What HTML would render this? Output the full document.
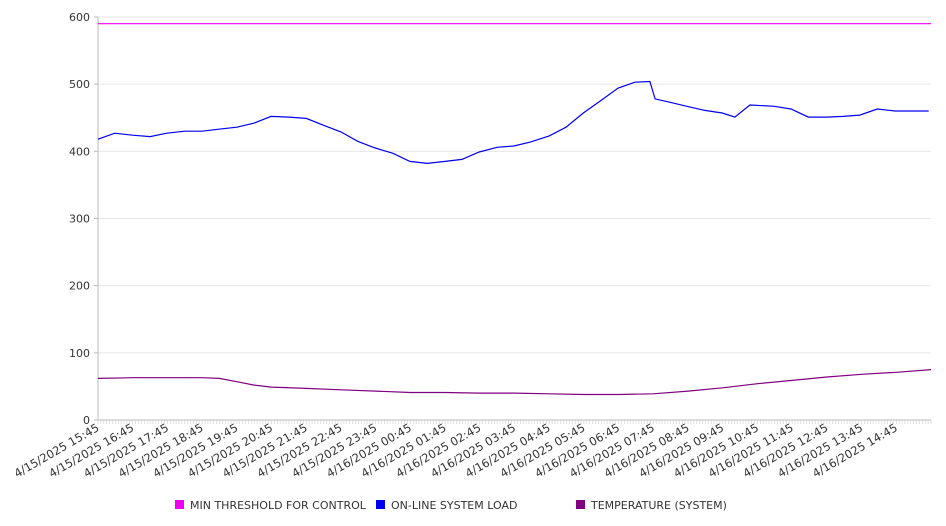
<!DOCTYPE html>
<html><head><meta charset="utf-8"><style>
html,body{margin:0;padding:0;background:#fff;}
svg{display:block;font-family:"DejaVu Sans","Liberation Sans",sans-serif;}
</style></head><body>
<svg id="chart" width="946" height="526" viewBox="0 0 946 526" xmlns="http://www.w3.org/2000/svg">
<g id="grid"></g>
<g id="axes"></g>
<g id="series"></g>
<g id="legend"></g>
</svg>
<script>
const yTicks = [0,100,200,300,400,500,600];
const xTickLabels = ["4/15/2025 15:45","4/15/2025 16:45","4/15/2025 17:45","4/15/2025 18:45","4/15/2025 19:45","4/15/2025 20:45","4/15/2025 21:45","4/15/2025 22:45","4/15/2025 23:45","4/16/2025 00:45","4/16/2025 01:45","4/16/2025 02:45","4/16/2025 03:45","4/16/2025 04:45","4/16/2025 05:45","4/16/2025 06:45","4/16/2025 07:45","4/16/2025 08:45","4/16/2025 09:45","4/16/2025 10:45","4/16/2025 11:45","4/16/2025 12:45","4/16/2025 13:45","4/16/2025 14:45"];
// times in minutes since 4/15 15:45
const loadTimes = [0,29,60,90,119,150,180,209,240,270,299,330,360,389,420,449,479,510,539,569,600,629,659,690,719,748,780,809,839,870,899,928,954,963,989,1018,1049,1079,1101,1127,1169,1198,1228,1259,1288,1317,1347,1378,1407,1436];
const loadValues = [418,427,424,422,427,430,430,433,436,442,452,451,449,439,429,415,405,397,385,382,385,388,399,406,408,414,423,436,457,476,494,503,504,478,473,467,461,457,451,469,467,463,451,451,452,454,463,460,460,460];
const tempTimes = [0,60,120,180,210,240,270,300,360,420,480,540,600,660,720,780,840,900,960,1020,1080,1140,1200,1260,1320,1380,1440];
const tempValues = [62,63,63,63,62,57,52,49,47,45,43,41,41,40,40,39,38,38,39,43,48,54,59,64,68,71,75];
const thresholdValue = 590;
const legendLabels = ["MIN THRESHOLD FOR CONTROL","ON-LINE SYSTEM LOAD","TEMPERATURE (SYSTEM)"];
const legendColors = ["#ee00ee","#0000ee","#800080"];

const X0=98, X1=931, Y0=420, Y1=17, TMAX=1440;
function xs(t){return X0+(t/TMAX)*(X1-X0);}
function ys(v){return Y0-(v/600)*(Y0-Y1);}
const NS="http://www.w3.org/2000/svg";
function mk(tag,parent){const e=document.createElementNS(NS,tag);parent.appendChild(e);return e;}
const grid=document.getElementById('grid'), axes=document.getElementById('axes'), series=document.getElementById('series'), legend=document.getElementById('legend');

yTicks.forEach(v=>{
  const l=mk('line',grid);
  
  
  l.setAttribute('x1',X0);l.setAttribute('x2',X1);l.setAttribute('y1',ys(v));l.setAttribute('y2',ys(v));
  l.setAttribute('stroke',v===0?'#bbb':'#e6e6e6');l.setAttribute('stroke-width','1');
  const tk=mk('line',axes);
  
  
  tk.setAttribute('x1',X0-4);tk.setAttribute('x2',X0);tk.setAttribute('y1',ys(v));tk.setAttribute('y2',ys(v));tk.setAttribute('stroke','#bbb');
  const t=mk('text',axes);
  
  
  t.setAttribute('x',X0-8);t.setAttribute('y',ys(v)+4);t.setAttribute('text-anchor','end');
  t.setAttribute('font-size','11');t.setAttribute('fill','#333');t.textContent=v;
});
const ax=mk('line',axes);


ax.setAttribute('x1',X0);ax.setAttribute('x2',X0);ax.setAttribute('y1',Y1);ax.setAttribute('y2',Y0);ax.setAttribute('stroke','#bbb');
for(let t=0;t<=TMAX;t+=5){
  const tk=mk('line',axes);
  
  
  tk.setAttribute('x1',xs(t));tk.setAttribute('x2',xs(t));tk.setAttribute('y1',Y0);tk.setAttribute('y2',Y0+4);tk.setAttribute('stroke','#ccc');tk.setAttribute('stroke-width','0.6');
}
xTickLabels.forEach((s,i)=>{
  const x=xs(i*60);
  const t=mk('text',axes);
  
  
  t.setAttribute('transform','translate('+(x+2)+','+(Y0+10)+') rotate(-30)');
  t.setAttribute('text-anchor','end');t.setAttribute('font-size','11.5');t.setAttribute('fill','#333');t.textContent=s;
});

function path(times,vals,color,name){
  const p=mk('path',series);
  
  
  p.setAttribute('d',times.map((t,i)=>(i?'L':'M')+xs(t).toFixed(1)+','+ys(vals[i]).toFixed(1)).join(' '));
  p.setAttribute('fill','none');p.setAttribute('stroke',color);p.setAttribute('stroke-width','1.2');
}
path([0,TMAX],[thresholdValue,thresholdValue],legendColors[0],'threshold-line');
path(loadTimes,loadValues,legendColors[1],'system-load-line');
path(tempTimes,tempValues,legendColors[2],'temperature-line');

const lx=[175,376,576];
legendLabels.forEach((s,i)=>{
  const r=mk('rect',legend);
  
  
  r.setAttribute('x',lx[i]);r.setAttribute('y',500);r.setAttribute('width',9);r.setAttribute('height',9);r.setAttribute('fill',legendColors[i]);
  const t=mk('text',legend);
  
  
  t.setAttribute('x',lx[i]+15);t.setAttribute('y',509);t.setAttribute('font-size','11');t.setAttribute('fill','#333');t.textContent=s;
});
</script>
</body></html>
